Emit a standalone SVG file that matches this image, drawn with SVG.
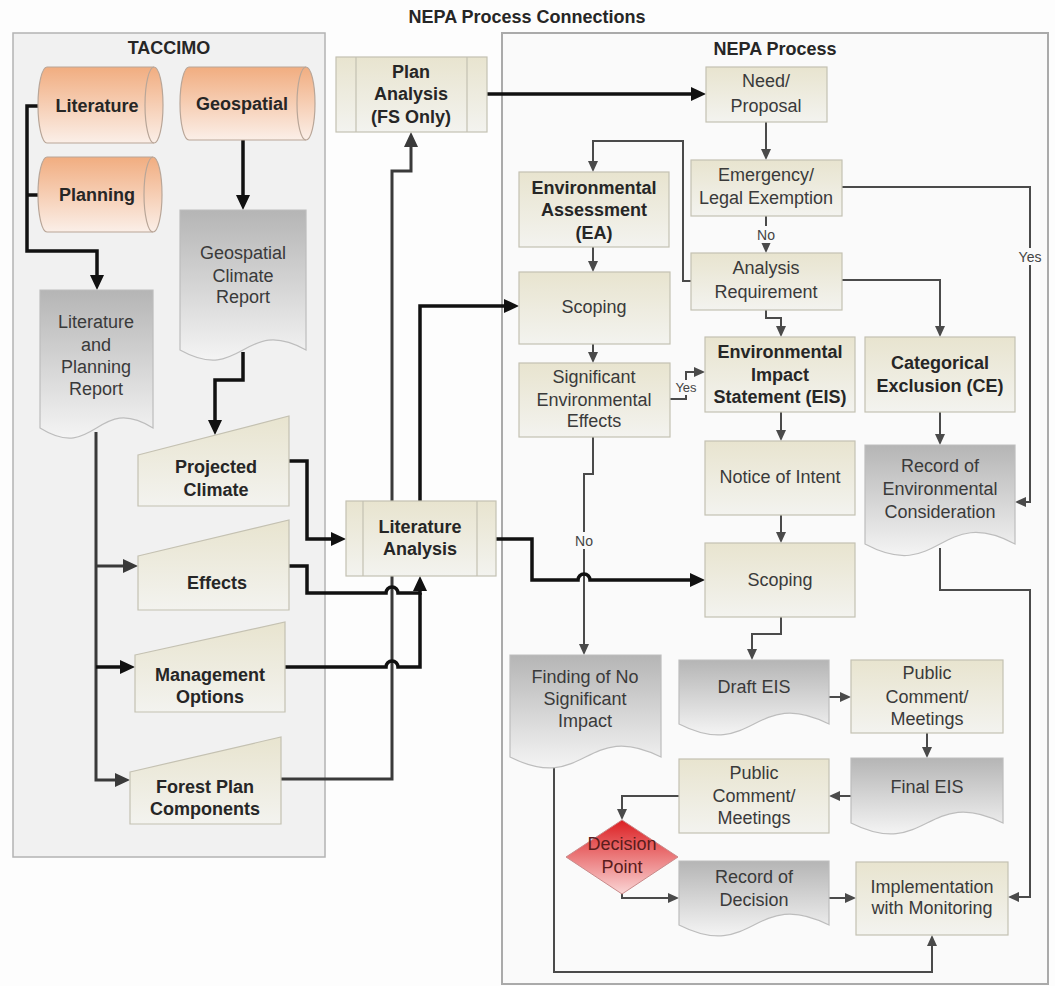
<svg xmlns="http://www.w3.org/2000/svg" width="1055" height="986" viewBox="0 0 1055 986">
<defs>
<linearGradient id="gBeige" x1="0" y1="0" x2="0" y2="1"><stop offset="0" stop-color="#e8e4cf"/><stop offset="1" stop-color="#f3f3ef"/></linearGradient>
<linearGradient id="gGray" x1="0" y1="0" x2="0" y2="1"><stop offset="0" stop-color="#b5b5b5"/><stop offset="1" stop-color="#f4f4f4"/></linearGradient>
<linearGradient id="gOrange" x1="0" y1="0" x2="0" y2="1"><stop offset="0" stop-color="#f1ad80"/><stop offset="1" stop-color="#fbefe8"/></linearGradient>
<linearGradient id="gRed" x1="0" y1="0" x2="0" y2="1"><stop offset="0" stop-color="#dc1f22"/><stop offset="1" stop-color="#fad6d6"/></linearGradient>
<marker id="ak" viewBox="0 0 15 14" refX="10" refY="7" markerWidth="15" markerHeight="14" markerUnits="userSpaceOnUse" orient="auto"><path d="M0,0 L15,7 L0,14 z" fill="#111"/></marker>
<marker id="ag" viewBox="0 0 15 14" refX="10" refY="7" markerWidth="15" markerHeight="14" markerUnits="userSpaceOnUse" orient="auto"><path d="M0,0 L15,7 L0,14 z" fill="#3a3a3a"/></marker>
<marker id="at" viewBox="0 0 11 10" refX="8" refY="5" markerWidth="11" markerHeight="10" markerUnits="userSpaceOnUse" orient="auto"><path d="M0,0 L11,5 L0,10 z" fill="#4a4a4a"/></marker>
</defs>
<style>
text{font-family:"Liberation Sans",Arial,sans-serif;font-size:18px;fill:#3a3a3a;text-anchor:middle}
.b{font-weight:bold;fill:#262626}
.lbl{font-size:14px;fill:#444}
.box{fill:url(#gBeige);stroke:#c4c1b2;stroke-width:1.2}
.doc{fill:url(#gGray);stroke:#bdbdbd;stroke-width:1.2}
.cyl{fill:url(#gOrange);stroke:#b9a698;stroke-width:1.2}
.in{fill:none;stroke:#b9a698;stroke-width:1.2}
.pl{fill:none;stroke:#c4c1b2;stroke-width:1.2}
.thick{fill:none;stroke:#111;stroke-width:3.5}
.gthick{fill:none;stroke:#3a3a3a;stroke-width:3}
.thin{fill:none;stroke:#4a4a4a;stroke-width:2}
</style>
<rect width="1055" height="986" fill="#fdfdfd"/>
<text class="b" x="527" y="23">NEPA Process Connections</text>

<g id="taccimo">
<rect x="13" y="33" width="312" height="824" fill="#f1f1f1" stroke="#b3b3b3" stroke-width="1.5"/>
<text class="b" x="169" y="54">TACCIMO</text>
</g>
<g id="nepa-process">
<rect x="502" y="33" width="546" height="951" fill="#fafafa" stroke="#aaaaaa" stroke-width="2"/>
<text class="b" x="775" y="55">NEPA Process</text>
</g>

<g id="connectors">
<path class="thick" d="M38,106 H27 V251 H97 V285" marker-end="url(#ak)"/>
<path class="thick" d="M38,195 H27"/>
<path class="thick" d="M243,140 V205" marker-end="url(#ak)"/>
<path class="thick" d="M243,352 V380 H215 V430" marker-end="url(#ak)"/>
<path class="gthick" d="M96,432 V780 H125" marker-end="url(#ag)"/>
<path class="gthick" d="M96,566 H133" marker-end="url(#ag)"/>
<path class="thick" d="M96,667 H130" marker-end="url(#ak)"/>
<path class="thick" d="M289,461 H307 V539 H341" marker-end="url(#ak)"/>
<path class="gthick" d="M281,779 H392 V171 H411 V137" marker-end="url(#ag)"/>
<path class="thick" d="M289,566 H307 V593 H386 A6,6 0 0 1 398,593 H420 V581" marker-end="url(#ak)"/>
<path class="thick" d="M285,667 H386 A6,6 0 0 1 398,667 H420 V593"/>
<path class="thick" d="M420,501 V306 H514" marker-end="url(#ak)"/>
<path class="thick" d="M487,94 H701" marker-end="url(#ak)"/>
<path class="thin" d="M593,437 V474 H584 V652" marker-end="url(#at)"/>
<path class="thick" d="M496,539 H532 V580 H578 A6,6 0 0 1 590,580 H700" marker-end="url(#ak)"/>

<path class="thin" d="M766,122 V157" marker-end="url(#at)"/>
<path class="thin" d="M766,216 V250" marker-end="url(#at)"/>
<path class="thin" d="M842,187 H1030 V502 H1018" marker-end="url(#at)"/>
<path class="thin" d="M691,281 H683 V141 H593 V169" marker-end="url(#at)"/>
<path class="thin" d="M842,280 H940 V334" marker-end="url(#at)"/>
<path class="thin" d="M766,310 V318 H781 V334" marker-end="url(#at)"/>
<path class="thin" d="M593,247 V269" marker-end="url(#at)"/>
<path class="thin" d="M593,344 V360" marker-end="url(#at)"/>
<path class="thin" d="M670,399 H686 V372 H702" marker-end="url(#at)"/>
<path class="thin" d="M781,412 V438" marker-end="url(#at)"/>
<path class="thin" d="M781,515 V540" marker-end="url(#at)"/>
<path class="thin" d="M940,412 V442" marker-end="url(#at)"/>
<path class="thin" d="M940,548 V590 H1030 V897 H1011" marker-end="url(#at)"/>
<path class="thin" d="M781,617 V634 H752 V657" marker-end="url(#at)"/>
<path class="thin" d="M829,697 H848" marker-end="url(#at)"/>
<path class="thin" d="M927,733 V755" marker-end="url(#at)"/>
<path class="thin" d="M851,796 H832" marker-end="url(#at)"/>
<path class="thin" d="M679,796 H622 V817" marker-end="url(#at)"/>
<path class="thin" d="M622,893 V898 H676" marker-end="url(#at)"/>
<path class="thin" d="M829,898 H853" marker-end="url(#at)"/>
<path class="thin" d="M554,760 V972 H932 V938" marker-end="url(#at)"/>

<rect x="754" y="226" width="24" height="17" fill="#fafafa"/>
<text class="lbl" x="766" y="240">No</text>
<rect x="1016" y="248" width="28" height="17" fill="#fafafa"/>
<text class="lbl" x="1030" y="262">Yes</text>
<rect x="674" y="380" width="24" height="15" fill="#fafafa"/>
<text class="lbl" x="686" y="392" style="font-size:13px">Yes</text>
<rect x="572" y="532" width="24" height="17" fill="#fafafa"/>
<text class="lbl" x="584" y="546">No</text>
</g>

<g id="literature">
<path class="cyl" d="M47,67 H154 A9,38 0 0 1 154,143 H47 A9,38 0 0 1 47,67 Z"/>
<path class="in" d="M154,67 A9,38 0 0 0 154,143"/>
<text class="b" x="97" y="112">Literature</text>
</g>
<g id="geospatial">
<path class="cyl" d="M189,67 H306 A9,36.5 0 0 1 306,140 H189 A9,36.5 0 0 1 189,67 Z"/>
<path class="in" d="M306,67 A9,36.5 0 0 0 306,140"/>
<text class="b" x="242" y="110">Geospatial</text>
</g>
<g id="planning">
<path class="cyl" d="M47,157 H153 A9,37.5 0 0 1 153,232 H47 A9,37.5 0 0 1 47,157 Z"/>
<path class="in" d="M153,157 A9,37.5 0 0 0 153,232"/>
<text class="b" x="97" y="201">Planning</text>
</g>
<g id="geospatial-climate-report">
<path class="doc" d="M180,210 H306 V350 C243,315 243,385 180,350 Z"/>
<text x="243" y="259">Geospatial</text>
<text x="243" y="282">Climate</text>
<text x="243" y="303">Report</text>
</g>
<g id="literature-planning-report">
<path class="doc" d="M40,290 H153 V428 C96.5,393 96.5,463 40,428 Z"/>
<text x="96" y="328">Literature</text>
<text x="96" y="351">and</text>
<text x="96" y="373">Planning</text>
<text x="96" y="395">Report</text>
</g>
<g id="projected-climate">
<polygon class="box" points="138,455 289,416 289,506 138,506"/>
<text class="b" x="216" y="473">Projected</text>
<text class="b" x="216" y="496">Climate</text>
</g>
<g id="effects">
<polygon class="box" points="138,556 289,520 289,610 138,610"/>
<text class="b" x="217" y="589">Effects</text>
</g>
<g id="management-options">
<polygon class="box" points="135,655 285,622 285,712 135,712"/>
<text class="b" x="210" y="681">Management</text>
<text class="b" x="210" y="703">Options</text>
</g>
<g id="forest-plan-components">
<polygon class="box" points="130,772 281,737 281,824 130,824"/>
<text class="b" x="205" y="793">Forest Plan</text>
<text class="b" x="205" y="815">Components</text>
</g>

<g id="plan-analysis">
<rect class="box" x="336" y="57" width="151" height="75"/>
<path class="pl" d="M356,57 V132 M467,57 V132"/>
<text class="b" x="411" y="78">Plan</text>
<text class="b" x="411" y="100">Analysis</text>
<text class="b" x="411" y="123">(FS Only)</text>
</g>
<g id="literature-analysis">
<rect class="box" x="346" y="501" width="150" height="75"/>
<path class="pl" d="M363,501 V576 M477,501 V576"/>
<text class="b" x="420" y="533">Literature</text>
<text class="b" x="420" y="555">Analysis</text>
</g>

<g id="need-proposal">
<rect class="box" x="706" y="67" width="121" height="55"/>
<text x="766" y="87">Need/</text>
<text x="766" y="112">Proposal</text>
</g>
<g id="emergency-legal-exemption">
<rect class="box" x="691" y="160" width="151" height="56"/>
<text x="766" y="181">Emergency/</text>
<text x="766" y="204">Legal Exemption</text>
</g>
<g id="analysis-requirement">
<rect class="box" x="691" y="253" width="151" height="57"/>
<text x="766" y="274">Analysis</text>
<text x="766" y="298">Requirement</text>
</g>
<g id="environmental-assessment">
<rect class="box" x="519" y="172" width="150" height="75"/>
<text class="b" x="594" y="194">Environmental</text>
<text class="b" x="594" y="216">Assessment</text>
<text class="b" x="594" y="239">(EA)</text>
</g>
<g id="scoping-ea">
<rect class="box" x="519" y="272" width="151" height="72"/>
<text x="594" y="313">Scoping</text>
</g>
<g id="significant-environmental-effects">
<rect class="box" x="519" y="363" width="151" height="74"/>
<text x="594" y="383">Significant</text>
<text x="594" y="406">Environmental</text>
<text x="594" y="427">Effects</text>
</g>
<g id="environmental-impact-statement">
<rect class="box" x="705" y="337" width="150" height="75"/>
<text class="b" x="780" y="358">Environmental</text>
<text class="b" x="780" y="381">Impact</text>
<text class="b" x="780" y="403">Statement (EIS)</text>
</g>
<g id="categorical-exclusion">
<rect class="box" x="865" y="337" width="150" height="75"/>
<text class="b" x="940" y="369">Categorical</text>
<text class="b" x="940" y="392">Exclusion (CE)</text>
</g>
<g id="notice-of-intent">
<rect class="box" x="705" y="441" width="150" height="74"/>
<text x="780" y="483">Notice of Intent</text>
</g>
<g id="scoping-eis">
<rect class="box" x="705" y="543" width="150" height="74"/>
<text x="780" y="586">Scoping</text>
</g>
<g id="record-environmental-consideration">
<path class="doc" d="M865,445 H1015 V544 C940,504 940,584 865,544 Z"/>
<text x="940" y="472">Record of</text>
<text x="940" y="495">Environmental</text>
<text x="940" y="518">Consideration</text>
</g>
<g id="finding-no-significant-impact">
<path class="doc" d="M510,655 H661 V757 C585.5,719 585.5,795 510,757 Z"/>
<text x="585" y="683">Finding of No</text>
<text x="585" y="705">Significant</text>
<text x="585" y="727">Impact</text>
</g>
<g id="draft-eis">
<path class="doc" d="M679,660 H829 V724 C754,686 754,762 679,724 Z"/>
<text x="754" y="693">Draft EIS</text>
</g>
<g id="public-comment-1">
<rect class="box" x="851" y="660" width="152" height="73"/>
<text x="927" y="679">Public</text>
<text x="927" y="703">Comment/</text>
<text x="927" y="725">Meetings</text>
</g>
<g id="final-eis">
<path class="doc" d="M851,758 H1003 V823 C927,785 927,861 851,823 Z"/>
<text x="927" y="793">Final EIS</text>
</g>
<g id="public-comment-2">
<rect class="box" x="679" y="759" width="150" height="74"/>
<text x="754" y="779">Public</text>
<text x="754" y="802">Comment/</text>
<text x="754" y="824">Meetings</text>
</g>
<g id="decision-point">
<polygon points="622,820 678,857 622,894 566,857" fill="url(#gRed)" stroke="#c98a8a" stroke-width="1"/>
<text x="622" y="850" style="fill:#5a1c1c">Decision</text>
<text x="622" y="873" style="fill:#5a1c1c">Point</text>
</g>
<g id="record-of-decision">
<path class="doc" d="M679,861 H829 V925 C754,887 754,963 679,925 Z"/>
<text x="754" y="883">Record of</text>
<text x="754" y="906">Decision</text>
</g>
<g id="implementation-monitoring">
<rect class="box" x="856" y="862" width="152" height="73"/>
<text x="932" y="893">Implementation</text>
<text x="932" y="914">with Monitoring</text>
</g>
</svg>
